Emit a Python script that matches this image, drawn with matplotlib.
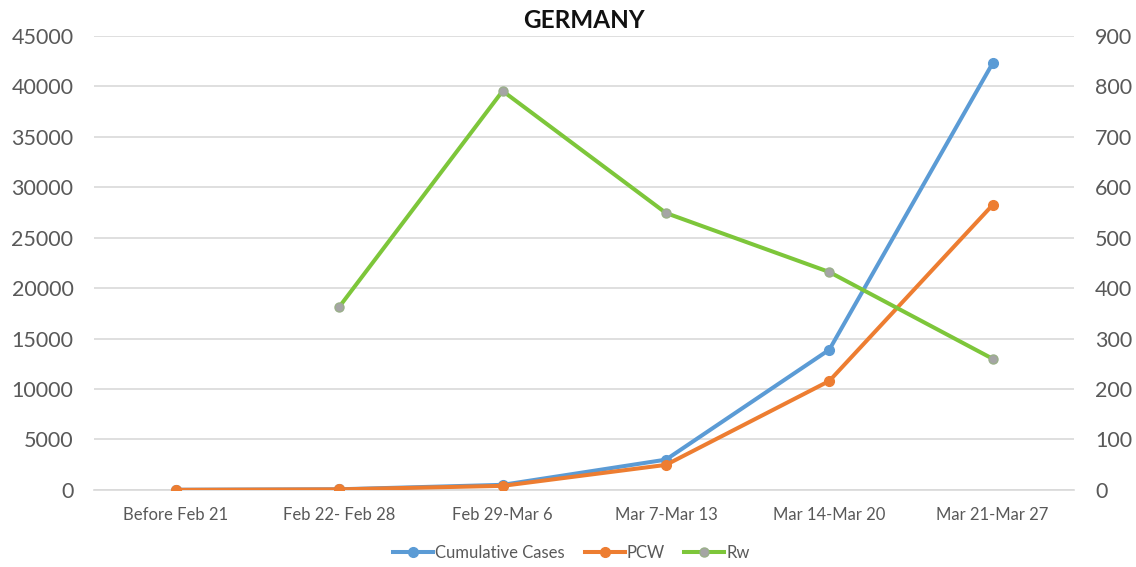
import matplotlib
matplotlib.use('Agg')
import matplotlib.pyplot as plt

plt.rcParams['font.family'] = ['Lato', 'DejaVu Sans']

weeks = ['Before Feb 21', 'Feb 22- Feb 28', 'Feb 29-Mar 6', 'Mar 7-Mar 13',
         'Mar 14-Mar 20', 'Mar 21-Mar 27']
cumulative_cases = [16, 60, 500, 3000, 13900, 42300]
pcw = [0, 50, 400, 2480, 10800, 28250]
rw_weeks = weeks[1:]
rw = [363, 791, 549, 432, 260]

blue = '#5B9BD5'
orange = '#ED7D31'
green = '#7DC63A'
tick_color = '#595959'

fig = plt.figure(figsize=(11.36, 5.67), dpi=100)
ax = fig.add_axes([0.083, 0.136, 0.8627, 0.8005])
ax2 = ax.twinx()

l1, = ax.plot(weeks, cumulative_cases, color=blue, lw=2.9, marker='o', ms=7,
              label='Cumulative Cases', zorder=3)
l2, = ax.plot(weeks, pcw, color=orange, lw=2.9, marker='o', ms=7,
              label='PCW', zorder=4)
l3, = ax2.plot(rw_weeks, rw, color=green, lw=2.9, marker='o', ms=6.5,
               mfc='#A5A5A5', mec='#9AAF8A', mew=1, label='Rw')

ax.set_xlim(-0.5, 5.5)
ax.set_ylim(0, 45000)
ax.set_yticks(range(0, 45001, 5000))
ax2.set_ylim(0, 900)
ax2.set_yticks(range(0, 901, 100))

ax.grid(axis='y', color='#D9D9D9', lw=1.2)
ax.set_axisbelow(True)
for a in (ax, ax2):
    for s in a.spines.values():
        s.set_visible(False)
ax.spines['bottom'].set_visible(True)
ax.spines['bottom'].set_color('#D9D9D9')
ax.spines['bottom'].set_linewidth(1.2)

ax.tick_params(axis='y', length=0, labelsize=15.5, labelcolor=tick_color, pad=15)
ax2.tick_params(axis='y', length=0, labelsize=15.5, labelcolor=tick_color, pad=15)
ax.tick_params(axis='x', length=0, labelsize=12, labelcolor=tick_color, pad=12)

ax.set_title('GERMANY', fontsize=17.5, fontweight='bold', color='#111111', pad=6)

fig.legend(handles=[l1, l2, l3], loc='center', bbox_to_anchor=(0.503, 0.025),
           ncol=3, frameon=False, fontsize=12, labelcolor=tick_color,
           handlelength=2.4, columnspacing=1.2, handletextpad=0.1)

fig.savefig('out.png', dpi=100)
